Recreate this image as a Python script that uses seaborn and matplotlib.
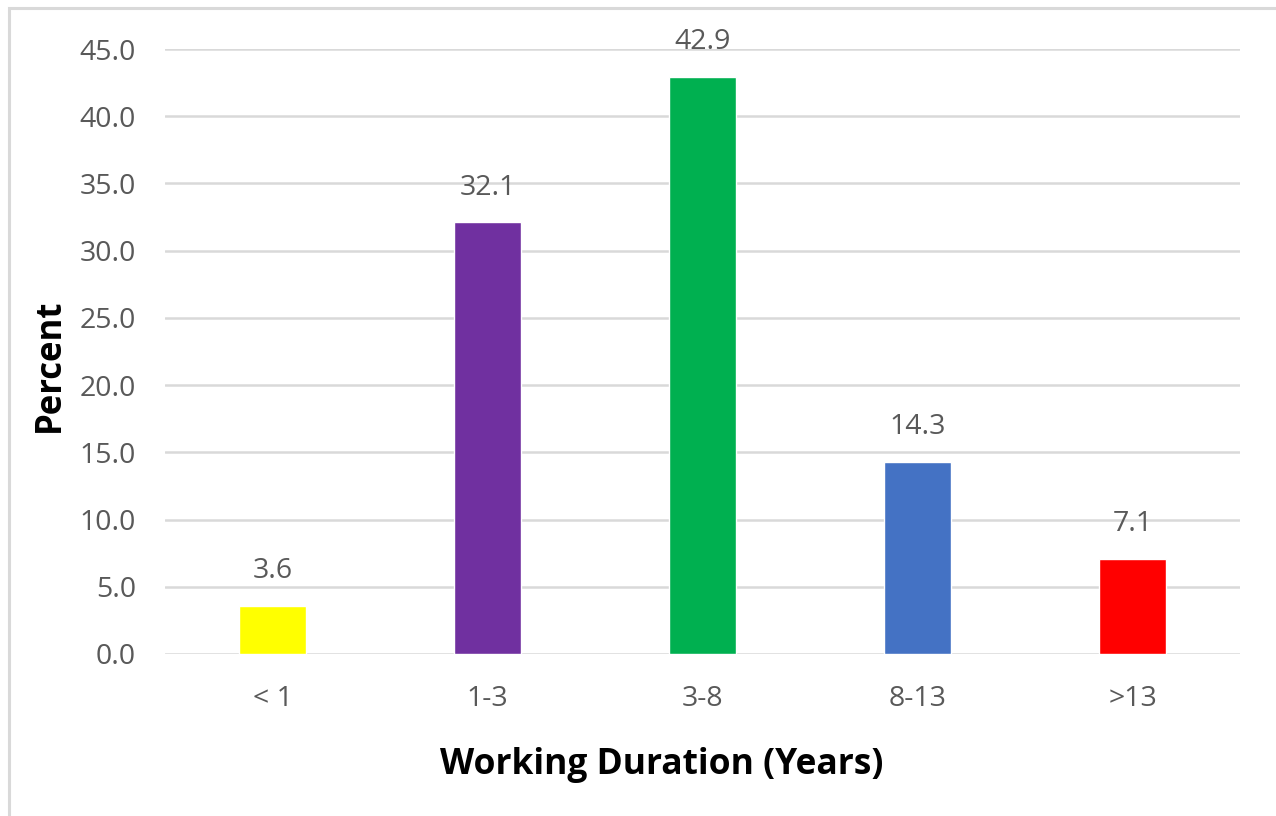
import matplotlib
matplotlib.use("Agg")
import matplotlib.pyplot as plt
from matplotlib.patches import Rectangle
import seaborn as sns
import pandas as pd

# Share of respondents by working duration
categories = ["< 1", "1-3", "3-8", "8-13", ">13"]
percent = [3.6, 32.1, 42.9, 14.3, 7.1]
bar_colors = ["#FFFF00", "#7030A0", "#00B050", "#4472C4", "#FF0000"]
y_ticks = [0, 5, 10, 15, 20, 25, 30, 35, 40, 45]

sns.set_theme(style="white")
plt.rcParams["font.family"] = ["Open Sans", "DejaVu Sans"]

df = pd.DataFrame({"duration": categories, "percent": percent})

fig = plt.figure(figsize=(12.76, 8.16), dpi=100)
fig.patch.set_facecolor("white")
ax = fig.add_axes([165 / 1276, 1 - 654 / 816, 1075 / 1276, 605 / 816])

sns.barplot(data=df, x="duration", y="percent", hue="duration",
            palette=bar_colors, width=0.31, legend=False, ax=ax,
            saturation=1, zorder=3)

ax.set_ylim(0, 45)
ax.set_xlim(-0.5, len(categories) - 0.5)
ax.set_yticks(y_ticks)
ax.set_yticklabels([f"{v:.1f}" for v in y_ticks])
ax.yaxis.grid(True, color="#d9d9d9", linewidth=1.8, zorder=0)
ax.set_axisbelow(True)
for s in ax.spines.values():
    s.set_visible(False)
ax.tick_params(axis="both", length=0, labelsize=20.5, labelcolor="#595959")
ax.tick_params(axis="y", pad=21)
ax.tick_params(axis="x", pad=22)

# value labels above each bar
for i, v in enumerate(percent):
    ax.annotate(f"{v:.1f}", (i, v), xytext=(0, 15), textcoords="offset points",
                ha="center", va="bottom", fontsize=20.5, color="#595959")

ax.set_xlabel("Working Duration (Years)", fontsize=25.5, fontweight="bold",
              color="black")
ax.xaxis.set_label_coords((662 - 165) / 1075, (654 - 765) / 605)
ax.xaxis.label.set_va("center")
ax.set_ylabel("Percent", fontsize=25, fontweight="bold", color="black")
ax.yaxis.set_label_coords((50 - 165) / 1075, (654 - 365) / 605)
ax.yaxis.label.set_va("center")

# chart frame
fig.patches.append(Rectangle((9 / 1276, -0.2), 1.2, 1.2 - 8 / 816,
                             transform=fig.transFigure, fill=False,
                             edgecolor="#d9d9d9", linewidth=2.2))

fig.savefig("out.png", dpi=100)
